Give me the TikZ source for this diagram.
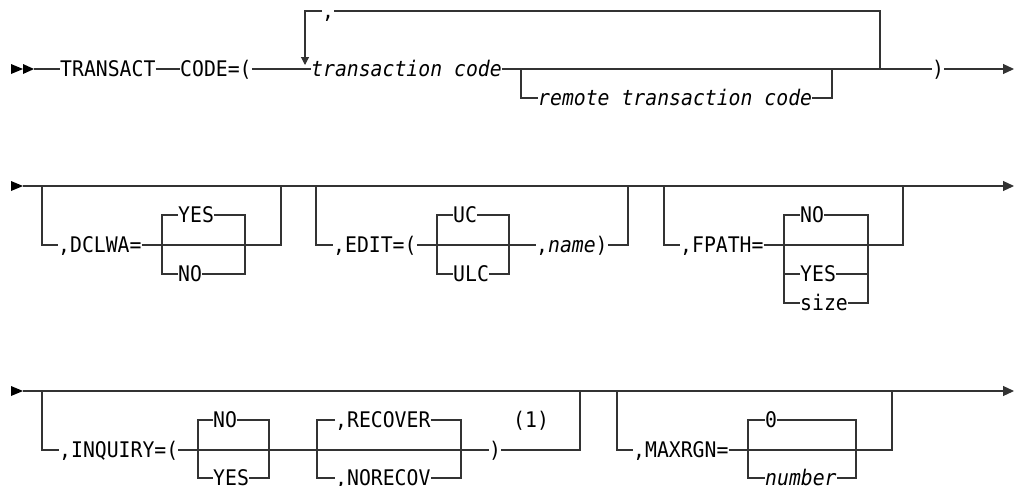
\documentclass[tikz,border=0pt]{standalone}
\usepackage{fontspec}
\newfontfamily\dvm[FakeStretch=0.92]{DejaVu Sans Mono}
\usetikzlibrary{arrows.meta}
\newcommand{\kwf}{\dvm\fontsize{21.5}{22}\selectfont}
\newcommand{\varf}{\dvm\itshape\fontsize{21.5}{22}\selectfont}
\tikzset{
  rail/.style={draw=black!80, line width=1.1pt},
  endarrow/.style={rail, -{Triangle[length=11pt,width=10pt]}},
  looparrow/.style={rail, -{Triangle[length=8pt,width=8pt]}},
  kw/.style={font=\kwf, anchor=west, inner sep=0pt, text height=15.6pt, text depth=0pt},
  var/.style={kw, font=\varf},
  starttri/.style={fill=black}
}
\begin{document}
\begin{tikzpicture}[x=1pt,y=-1pt]
\useasboundingbox (0,0) rectangle (1015,485);

% ---------------- Row 1 ----------------
\fill[starttri] (11,64) -- (23,69) -- (11,74) -- cycle;
\fill[starttri] (23,64) -- (34,69) -- (23,74) -- cycle;
\coordinate (r1s) at (34,69);
\node[kw] (transact) at (60,69) {TRANSACT};
\node[kw] (code) at (180,69) {CODE=(};
\coordinate (loopTip) at (305,65);
\node[var] (tc) at (311,69) {transaction code};
\coordinate (brA) at (521,69);
\node[var] (rtc) at (538,98) {remote transaction code};
\coordinate (brB) at (832,69);
\coordinate (loopR) at (880,69);
\node[kw] (close1) at (932,69) {)};
\coordinate (end1) at (1014,69);
\node[kw] (comma1) at (322,11) {,};

\draw[rail] (r1s) -- (transact.west);
\draw[rail] (transact.east) -- (code.west);
\draw[rail] (code.east) -- (tc.west);
\draw[rail] (tc.east) -- (close1.west);
\draw[endarrow] (close1.east) -- (end1);
\draw[rail] (brA) |- (rtc.west);
\draw[rail] (rtc.east) -| (brB);
\draw[rail] (loopR) |- (comma1.east);
\draw[looparrow] (comma1.west) -| (loopTip);

% ---------------- Row 2 ----------------
\fill[starttri] (11,181) -- (23,186) -- (11,191) -- cycle;
\coordinate (r2s) at (23,186);
\coordinate (r2e) at (1014,186);
\draw[endarrow] (r2s) -- (r2e);

% DCLWA
\coordinate (d1) at (42,186);
\node[kw] (dclwa) at (58,245) {,DCLWA=};
\coordinate (dL) at (162,245);
\coordinate (dR) at (245,245);
\node[kw] (dyes) at (178,215) {YES};
\node[kw] (dno) at (178,274) {NO};
\coordinate (d2) at (281,186);
\draw[rail] (d1) |- (dclwa.west);
\draw[rail] (dclwa.east) -| (d2);
\draw[rail] (dyes.west) -| (dL) |- (dno.west);
\draw[rail] (dyes.east) -| (dR) |- (dno.east);

% EDIT
\coordinate (e1) at (316,186);
\node[kw] (edit) at (333,245) {,EDIT=(};
\coordinate (eL) at (437,245);
\coordinate (eR) at (509,245);
\node[kw] (uc) at (453,215) {UC};
\node[kw] (ulc) at (453,274) {ULC};
\node[kw] (name) at (536,245) {,{\varf name})};
\coordinate (e2) at (628,186);
\draw[rail] (e1) |- (edit.west);
\draw[rail] (edit.east) -- (name.west);
\draw[rail] (name.east) -| (e2);
\draw[rail] (uc.west) -| (eL) |- (ulc.west);
\draw[rail] (uc.east) -| (eR) |- (ulc.east);

% FPATH
\coordinate (f1) at (664,186);
\node[kw] (fpath) at (680,245) {,FPATH=};
\coordinate (fL) at (784,245);
\coordinate (fR) at (868,245);
\node[kw] (fno) at (800,215) {NO};
\node[kw] (fyes) at (800,274) {YES};
\node[kw] (fsize) at (800,303) {size};
\coordinate (f2) at (903,186);
\draw[rail] (f1) |- (fpath.west);
\draw[rail] (fpath.east) -| (f2);
\draw[rail] (fno.west) -| (fL) |- (fsize.west);
\draw[rail] (fyes.west) -- (fyes.west -| fL);
\draw[rail] (fno.east) -| (fR) |- (fsize.east);
\draw[rail] (fyes.east) -- (fyes.east -| fR);

% ---------------- Row 3 ----------------
\fill[starttri] (11,386) -- (23,391) -- (11,396) -- cycle;
\coordinate (r3s) at (23,391);
\coordinate (r3e) at (1014,391);
\draw[endarrow] (r3s) -- (r3e);

% INQUIRY
\coordinate (i1) at (42,391);
\node[kw] (inq) at (59,450) {,INQUIRY=(};
\coordinate (iL) at (198,450);
\coordinate (iR) at (269,450);
\node[kw] (ino) at (213,420) {NO};
\node[kw] (iyes) at (213,478) {YES};
\coordinate (jL) at (317,450);
\coordinate (jR) at (461,450);
\node[kw] (rec) at (335,420) {,RECOVER};
\node[kw] (norec) at (335,478) {,NORECOV};
\node[kw] (close3) at (489,450) {)};
\node[kw] (note) at (513,420) {(1)};
\coordinate (i2) at (580,391);
\draw[rail] (i1) |- (inq.west);
\draw[rail] (inq.east) -- (close3.west);
\draw[rail] (close3.east) -| (i2);
\draw[rail] (ino.west) -| (iL) |- (iyes.west);
\draw[rail] (ino.east) -| (iR) |- (iyes.east);
\draw[rail] (rec.west) -| (jL) |- (norec.west);
\draw[rail] (rec.east) -| (jR) |- (norec.east);

% MAXRGN
\coordinate (m1) at (617,391);
\node[kw] (maxrgn) at (633,450) {,MAXRGN=};
\coordinate (mL) at (748,450);
\coordinate (mR) at (856,450);
\node[kw] (zero) at (765,420) {0};
\node[var] (num) at (765,478) {number};
\coordinate (m2) at (892,391);
\draw[rail] (m1) |- (maxrgn.west);
\draw[rail] (maxrgn.east) -| (m2);
\draw[rail] (zero.west) -| (mL) |- (num.west);
\draw[rail] (zero.east) -| (mR) |- (num.east);
\end{tikzpicture}
\end{document}
